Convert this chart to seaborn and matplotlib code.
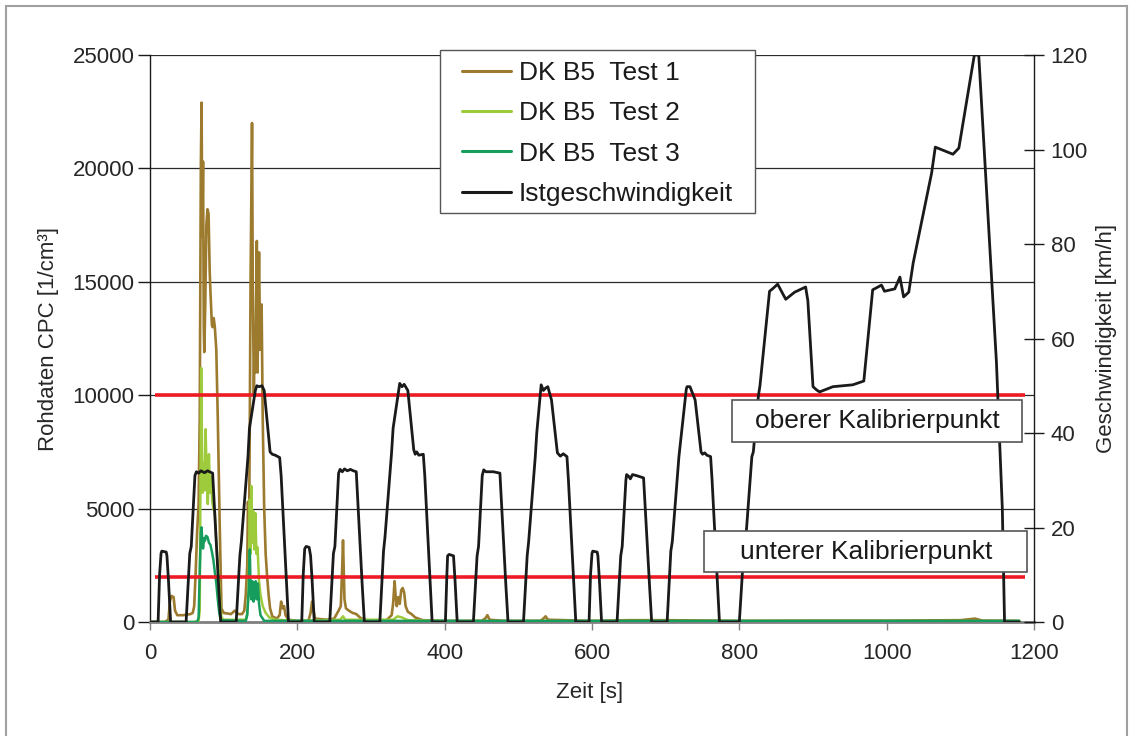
import numpy as np
import pandas as pd
import matplotlib
matplotlib.use("Agg")
import matplotlib.pyplot as plt
import seaborn as sns
from matplotlib.patches import Rectangle
from matplotlib.lines import Line2D

# ---------------- data ----------------
# speed trace "Istgeschwindigkeit" [km/h], breakpoints (time s, speed)
t_speed = [0, 11, 13, 15, 16, 22, 23, 25, 28, 49, 54, 56, 61, 63, 66, 69, 74, 78, 85, 93, 96,
           117, 122, 124, 133, 135, 143, 145, 148, 152, 155, 163, 166, 170, 176, 178, 188,
           195, 206, 208, 210, 212, 216, 218, 220, 223, 244, 249, 251, 256, 258, 261, 264, 268,
           272, 276, 280, 288, 291, 312, 317, 319, 328, 330, 338, 339, 342, 345, 348, 350, 358,
           360, 362, 365, 371, 373, 383,
           390, 401, 403, 404, 406, 412, 414, 417, 439, 444, 446, 451, 453, 456, 460, 466, 475,
           483, 486, 507, 512, 514, 523, 525, 531, 534, 537, 540, 545, 553, 557, 561, 566, 568,
           578,
           585, 596, 598, 600, 601, 607, 608, 610, 613, 634, 639, 641, 646, 647, 650, 652, 655,
           660, 670, 678, 681, 702, 707, 709, 716, 718, 728, 729, 733, 735, 740, 748, 750, 753,
           756, 761, 763, 773,
           800, 806, 808, 817, 819, 826, 828, 841, 845, 852, 863, 875, 890, 893, 900, 905, 909,
           927, 954, 969, 981, 993, 997, 1011, 1018, 1023, 1030, 1036, 1061, 1066, 1090, 1098,
           1119, 1125, 1149, 1157, 1160, 1180]
v_speed = [0, 0, 10, 14.5, 15, 14.8, 14, 9, 0, 0, 14.5, 16, 31, 31.8, 31.5, 32, 31.6, 32, 31.5, 8, 0,
           0, 14, 17, 35, 41, 49, 50, 49.8, 50, 49, 36, 35.5, 35.3, 34.8, 31, 0,
           0, 0, 10, 15.5, 16, 15.8, 14, 9, 0, 0, 14.5, 16, 31.5, 32.3, 31.8, 32.4, 32,
           32.3, 32, 31.8, 8, 0, 0, 15, 18, 36, 41, 49.5, 50.5, 49.8, 50.3, 49.5, 49, 36.5,
           35.5, 36, 35.3, 35.5, 31, 0,
           0, 0, 10, 14, 14.3, 14, 9, 0, 0, 14, 16, 31, 32.2, 31.8, 31.8, 31.8, 31.5,
           8, 0, 0, 14, 17, 35, 40, 50.2, 49, 49.5, 49.8, 47, 35.8, 35.1, 35.6, 35, 30,
           0,
           0, 0, 10, 14.5, 15, 14.8, 14, 9, 0, 0, 14, 16, 30, 31.2, 30.8, 30.3, 31.2,
           31, 30.5, 8, 0, 0, 15, 17, 31, 35, 49.3, 49.8, 49.8, 49, 47, 36, 35.5, 35.8,
           35.3, 35, 30, 0,
           0, 15, 16, 35, 36, 48, 50, 70, 70.5, 71.5, 68.3, 69.8, 70.9, 68, 49.8, 49.1, 48.7,
           49.8, 50.2, 51, 70.3, 71.3, 70, 70.5, 73, 68.8, 69.8, 76, 95, 100.5, 99, 100.3,
           120, 120, 55, 24, 0, 0]

# CPC raw data [1/cm3], DK B5 Test 1
t_test1 = [0, 20, 25, 27, 29, 32, 34, 37, 45, 55, 58, 60, 62, 64, 66, 67.5, 69, 70, 71, 72, 73,
           73.7, 75, 76.5, 78, 79.5, 81, 82, 84, 85, 86.5, 88, 90, 92, 94.5, 97, 100, 110, 115,
           120, 125, 128, 130, 132, 133, 134.5, 135.5, 136.5, 138.5, 139.5, 141, 142, 143,
           145, 146, 148, 149.5, 151.5, 153, 155, 157, 159, 161, 163, 166, 172, 176, 178, 180,
           182, 184, 188, 200, 215, 218, 220, 222, 224, 240, 250, 256, 259, 261, 262, 263, 264,
           266, 270, 275, 280, 285, 290, 300, 320, 328, 330, 332, 333.5, 335, 337, 339, 341,
           343, 345, 347, 350, 355, 360, 370, 400, 450, 455, 458, 461, 480, 530, 534, 537,
           540, 600, 650, 700, 800, 900, 1000, 1100, 1120, 1130, 1180]
cpc_test1 = [0, 0, 100, 900, 1150, 1100, 500, 300, 300, 350, 400, 700, 2200, 4000, 5200, 9000,
             20000, 22900, 17000, 20300, 13000, 11900, 14000, 17500, 18200, 18000, 15500,
             14600, 13100, 13000, 13400, 13000, 12000, 9000, 4500, 600, 400, 350, 500, 350,
             350, 500, 1200, 2500, 5300, 4000, 9000, 15000, 22000, 15000, 10000, 12500, 11000,
             16800, 11000, 16300, 12000, 14000, 9000, 5000, 3000, 2000, 1200, 600, 250, 150,
             300, 900, 600, 700, 300, 100, 50, 50, 400, 900, 500, 150, 100, 150, 500, 700, 2500,
             3600, 2200, 1000, 600, 500, 400, 350, 200, 100, 50, 50, 300, 800, 1800, 1100, 700,
             1100, 800, 1400, 1500, 1300, 700, 450, 350, 200, 80, 50, 50, 150, 300, 100, 50, 50,
             150, 250, 100, 50, 80, 80, 50, 60, 60, 80, 150, 60, 50]

# DK B5 Test 2
t_test2 = [0, 60, 66, 67.5, 68.5, 69.5, 70.5, 71.5, 73, 74, 75.5, 77, 78.5, 80, 81.5, 83, 84.5,
           86, 88, 90, 92.5, 95, 97, 100, 130, 132, 134, 135.5, 136.5, 137.5, 138.5, 140, 141.5,
           143, 144.5, 146, 148, 150, 153, 157, 162, 170, 200, 258, 262, 265, 330, 336, 342,
           350, 400, 1180]
cpc_test2 = [0, 0, 50, 500, 6000, 11200, 8000, 5700, 7000, 5800, 8500, 6300, 5200, 7400, 5700,
             6400, 5300, 5000, 4800, 3500, 2400, 1000, 200, 100, 100, 400, 1500, 5400, 3000, 6000,
             3500, 4900, 3200, 4800, 3000, 3300, 1800, 1200, 700, 400, 200, 100, 50, 100, 250,
             100, 100, 250, 200, 80, 40, 40]

# DK B5 Test 3
t_test3 = [0, 64, 66, 67.5, 69, 70, 71, 72, 73.5, 74.5, 76, 78, 80, 82, 84, 86, 88, 90, 92, 94,
           96, 130, 132, 134, 135.5, 136.5, 137.5, 139, 140.5, 142, 143.5, 145, 146.5, 148, 150,
           155, 1180]
cpc_test3 = [0, 0, 200, 2200, 3900, 4170, 3600, 3240, 3700, 3580, 3800, 3750, 3500, 3400, 3100,
             2740, 2200, 1720, 1000, 400, 80, 50, 300, 1400, 3200, 1500, 1000, 1800, 900, 1100,
             1800, 1000, 1700, 800, 300, 50, 50]

calib_levels = [10000, 2000]
calib_names = ["oberer Kalibrierpunkt", "unterer Kalibrierpunkt"]
series_names = ["DK B5  Test 1", "DK B5  Test 2", "DK B5  Test 3", "Istgeschwindigkeit"]
x_ticks = [0, 200, 400, 600, 800, 1000, 1200]
y_ticks = [0, 5000, 10000, 15000, 20000, 25000]
y2_ticks = [0, 20, 40, 60, 80, 100, 120]

# ---------------- styling ----------------
BROWN = "#9C7A2E"
LGREEN = "#9DCB3B"
DGREEN = "#169C5C"
RED = "#ED1C24"
BLACK = "#1A1A1A"

sns.set_theme(style="white")
plt.rcParams['font.family'] = ['Liberation Sans', 'DejaVu Sans']
plt.rcParams['text.color'] = '#1a1a1a'

W, H = 1134, 736
fig = plt.figure(figsize=(W / 100, H / 100), dpi=100)
fig.patch.set_facecolor("white")
ax = fig.add_axes([150 / W, 1 - 622 / H, 884 / W, 567 / H])
ax2 = ax.twinx()

# CPC traces
sns.lineplot(x=t_test1, y=cpc_test1, ax=ax, color=BROWN, lw=1.9, estimator=None, sort=False, zorder=3)
sns.lineplot(x=t_test2, y=cpc_test2, ax=ax, color=LGREEN, lw=1.8, estimator=None, sort=False, zorder=4)
sns.lineplot(x=t_test3, y=cpc_test3, ax=ax, color=DGREEN, lw=1.8, estimator=None, sort=False, zorder=5)

# calibration lines
for lvl in calib_levels:
    ax.hlines(lvl, 7, 1188, color=RED, lw=2.6, zorder=6)

# speed
sns.lineplot(x=t_speed, y=v_speed, ax=ax2, color=BLACK, lw=2.0, estimator=None, sort=False, zorder=5)

ax.set_xlim(0, 1200)
ax.set_ylim(0, 25000)
ax2.set_ylim(0, 120)
ax.set_xticks(x_ticks)
ax.set_yticks(y_ticks)
ax2.set_yticks(y2_ticks)
ax.set_xticklabels([str(v) for v in x_ticks])
ax.set_yticklabels([str(v) for v in y_ticks])
ax2.set_yticklabels([str(v) for v in y2_ticks])

ax.grid(axis='y', color='#2a2a2a', lw=0.9, zorder=0)
ax.grid(axis='x', visible=False)
ax.set_axisbelow(True)

ax.spines['top'].set_visible(False)
ax.spines['right'].set_visible(False)
ax.spines['left'].set_color('#1a1a1a')
ax.spines['left'].set_linewidth(1.0)
ax.spines['bottom'].set_color('#808080')
ax.spines['bottom'].set_linewidth(2.0)
for s in ['top', 'left', 'bottom']:
    ax2.spines[s].set_visible(False)
ax2.spines['right'].set_color('#1a1a1a')
ax2.spines['right'].set_linewidth(1.0)

FS = 16
ax.tick_params(axis='y', direction='out', length=9, width=1, color='#1a1a1a', labelsize=FS, pad=2, left=True)
ax.tick_params(axis='x', direction='out', length=6, width=1, color='#808080', labelsize=FS, pad=9, bottom=True)
ax2.tick_params(axis='y', direction='inout', length=14, width=1, color='#1a1a1a', labelsize=FS, pad=5, right=True)

ax.set_xlabel("Zeit [s]", fontsize=FS)
ax.set_ylabel("Rohdaten CPC [1/cm³]", fontsize=FS)
ax2.set_ylabel("Geschwindigkeit [km/h]", fontsize=FS)
ax.xaxis.set_label_coords((590 - 150) / 884, (622 - 682) / 567)
ax.yaxis.set_label_coords((59 - 150) / 884, 0.5)
ax2.yaxis.set_label_coords((1096 - 150) / 884, 0.5)

# legend (frame drawn as a separate box)
ax2.add_patch(Rectangle((440 / W, 1 - 213 / H), 315 / W, 163 / H, transform=fig.transFigure,
                        facecolor='white', edgecolor='#555555', lw=1.0, zorder=19, clip_on=False))
handles = [Line2D([], [], color=c, lw=2.2) for c in [BROWN, LGREEN, DGREEN, BLACK]]
leg = ax2.legend(handles, series_names, loc='upper left',
                 bbox_to_anchor=(462 / W, 1 - 61 / H), bbox_transform=fig.transFigure,
                 borderaxespad=0, borderpad=0, fontsize=19, frameon=False,
                 handlelength=1.85, handletextpad=0.3, labelspacing=0.62)
leg.set_zorder(20)

# calibration text boxes
boxes = [
    (calib_names[0], (732 - 150) / 884, (622 - 442) / 567, 290 / 884, 42 / 567, (877 - 150) / 884, (622 - 421) / 567),
    (calib_names[1], (704 - 150) / 884, (622 - 572) / 567, 323 / 884, 41 / 567, (866 - 150) / 884, (622 - 551.5) / 567),
]
for name, bx, by, bw, bh, tx, ty in boxes:
    ax2.add_patch(Rectangle((bx, by), bw, bh, transform=ax2.transAxes, facecolor='white',
                            edgecolor='#555555', lw=1.2, zorder=15))
    ax2.text(tx, ty, name, transform=ax2.transAxes, ha='center', va='center',
             fontsize=19, zorder=16)

# figure frame
fig.patches.append(Rectangle((6 / W, -0.05), (1127 - 6) / W, 1.05 - 6 / H, transform=fig.transFigure,
                             facecolor='none', edgecolor='#a0a0a0', lw=1.5, zorder=0))

fig.savefig("out.png", dpi=100)
